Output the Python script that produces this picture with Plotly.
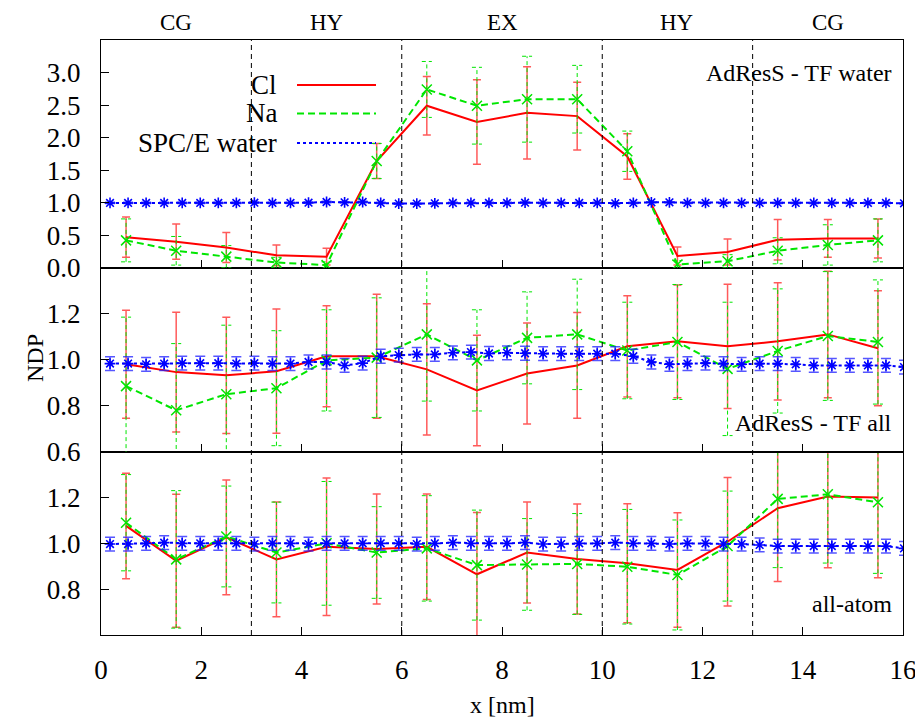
import plotly.graph_objects as go

# ---------------- data ----------------
x_ion = [0.5, 1.5, 2.5, 3.5, 4.5, 5.5, 6.5, 7.5, 8.5, 9.5, 10.5, 11.5, 12.5, 13.5, 14.5, 15.5]

# top panel: AdResS - TF water
cl_top = [0.47, 0.40, 0.31, 0.19, 0.17, 1.64, 2.49, 2.24, 2.38, 2.33, 1.71, 0.18, 0.24, 0.43, 0.45, 0.45]
cl_top_err = [0.31, 0.27, 0.23, 0.16, 0.13, 0.27, 0.45, 0.65, 0.71, 0.52, 0.35, 0.14, 0.20, 0.31, 0.29, 0.30]
na_top = [0.42, 0.26, 0.17, 0.08, 0.04, 1.64, 2.74, 2.49, 2.59, 2.59, 1.79, 0.05, 0.10, 0.26, 0.35, 0.42]
na_top_err = [0.33, 0.22, 0.17, 0.08, 0.05, 0.27, 0.43, 0.59, 0.66, 0.52, 0.31, 0.06, 0.10, 0.20, 0.31, 0.33]

# middle panel: AdResS - TF all
cl_mid = [0.98, 0.946, 0.932, 0.95, 1.015, 1.015, 0.958, 0.866, 0.94, 0.975, 1.058, 1.08, 1.058, 1.08, 1.11, 1.05]
cl_mid_err = [0.235, 0.26, 0.253, 0.27, 0.22, 0.27, 0.285, 0.24, 0.22, 0.23, 0.22, 0.245, 0.27, 0.255, 0.275, 0.25]
na_mid = [0.885, 0.78, 0.85, 0.876, 0.997, 1.009, 1.11, 0.997, 1.095, 1.11, 1.04, 1.077, 0.96, 1.038, 1.103, 1.077]
na_mid_err = [0.30, 0.29, 0.30, 0.25, 0.22, 0.26, 0.29, 0.22, 0.20, 0.24, 0.21, 0.25, 0.29, 0.27, 0.28, 0.27]

# bottom panel: all-atom
cl_bot = [1.076, 0.924, 1.026, 0.93, 0.985, 0.975, 0.985, 0.865, 0.96, 0.932, 0.913, 0.884, 1.007, 1.153, 1.204, 1.20]
cl_bot_err = [0.23, 0.29, 0.25, 0.25, 0.30, 0.24, 0.23, 0.27, 0.22, 0.24, 0.26, 0.25, 0.28, 0.32, 0.31, 0.35]
na_bot = [1.09, 0.93, 1.03, 0.96, 1.0, 0.96, 0.978, 0.905, 0.908, 0.91, 0.898, 0.862, 0.988, 1.194, 1.214, 1.179]
na_bot_err = [0.21, 0.30, 0.22, 0.22, 0.27, 0.20, 0.23, 0.24, 0.20, 0.22, 0.25, 0.24, 0.24, 0.30, 0.30, 0.31]

# SPC/E water
x_wat = [0.18, 0.54, 0.90, 1.26, 1.62, 1.98, 2.34, 2.70, 3.06, 3.42, 3.78, 4.14, 4.50, 4.86, 5.22,
         5.58, 5.94, 6.30, 6.66, 7.02, 7.38, 7.74, 8.10, 8.46, 8.82, 9.18, 9.54, 9.90, 10.26, 10.62,
         10.98, 11.34, 11.70, 12.06, 12.42, 12.78, 13.14, 13.50, 13.86, 14.22, 14.58, 14.94, 15.30, 15.66, 16.02]
wat_top = [0.995, 0.995, 0.995, 0.995, 0.995, 0.995, 0.995, 0.995, 1.0, 0.995, 0.995, 1.0, 1.01, 1.005, 1.01,
           0.995, 0.985, 0.985, 0.99, 0.995, 0.995, 0.995, 0.995, 1.0, 0.995, 0.995, 0.995, 0.995, 0.99, 0.995,
           1.005, 1.005, 0.995, 0.995, 0.995, 0.995, 0.995, 0.995, 0.995, 0.995, 0.995, 0.995, 0.995, 0.995, 0.99]
wat_top_err = [0.01] * 45
wat_mid = [0.983, 0.983, 0.98, 0.983, 0.985, 0.985, 0.985, 0.983, 0.985, 0.983, 0.983, 0.99, 0.99, 0.975, 0.985,
           1.015, 1.02, 1.023, 1.023, 1.03, 1.033, 1.027, 1.03, 1.028, 1.026, 1.026, 1.026, 1.026, 1.026, 1.015,
           0.99, 0.98, 0.983, 0.985, 0.983, 0.98, 0.983, 0.983, 0.98, 0.975, 0.975, 0.975, 0.975, 0.975, 0.968]
wat_mid_err = [0.03] * 45
wat_bot = [0.997, 0.997, 1.0, 1.003, 1.0, 1.0, 1.0, 1.0, 0.997, 1.0, 1.0, 0.997, 1.0, 1.0, 1.0,
           1.0, 1.0, 0.997, 1.0, 1.003, 1.0, 1.0, 1.0, 1.003, 0.997, 0.997, 1.0, 1.0, 1.003, 1.0,
           1.0, 0.997, 1.0, 1.0, 0.997, 0.997, 0.993, 0.988, 0.988, 0.988, 0.988, 0.988, 0.988, 0.988, 0.978]
wat_bot_err = [0.03] * 45

region_bounds = [3, 6, 10, 13]
region_names = ["CG", "HY", "EX", "HY", "CG"]
region_centers = [1.5, 4.5, 8, 11.5, 14.5]
x_ticks = [0, 2, 4, 6, 8, 10, 12, 14, 16]
y_ticks_top = [0.0, 0.5, 1.0, 1.5, 2.0, 2.5, 3.0]
y_ticks_low = [0.6, 0.8, 1.0, 1.2]
panel_labels = ["AdResS - TF water", "AdResS - TF all", "all-atom"]
series_names = ["Cl", "Na", "SPC/E water"]

# ---------------- style ----------------
FONT = "Times New Roman, Liberation Serif, Times, serif"
RED = "#ff0000"
GREEN = "#00e600"
BLUE = "#0000ff"
CAP = 0.1


def bar_path(xs, ys, es, cap):
    px, py = [], []
    for x, y, e in zip(xs, ys, es):
        px += [x, x, None, x - cap, x + cap, None, x - cap, x + cap, None]
        py += [y - e, y + e, None, y - e, y - e, None, y + e, y + e, None]
    return px, py


fig = go.Figure()

panels = [
    ("x3", "y3", cl_top, cl_top_err, na_top, na_top_err, wat_top, wat_top_err),
    ("x2", "y2", cl_mid, cl_mid_err, na_mid, na_mid_err, wat_mid, wat_mid_err),
    ("x", "y", cl_bot, cl_bot_err, na_bot, na_bot_err, wat_bot, wat_bot_err),
]

for xa, ya, cl, cle, na, nae, wa, wae in panels:
    fig.add_trace(go.Scatter(
        x=x_ion, y=cl, xaxis=xa, yaxis=ya, mode="lines",
        line=dict(color=RED, width=2),
        error_y=dict(type="data", array=cle, color="rgba(255,20,20,0.7)", thickness=1.5, width=4),
        showlegend=False, name=series_names[0]))
    bx, by = bar_path(x_ion, na, nae, CAP)
    fig.add_trace(go.Scatter(
        x=bx, y=by, xaxis=xa, yaxis=ya, mode="lines",
        line=dict(color=GREEN, width=1, dash="4px,3px"), showlegend=False, hoverinfo="skip"))
    fig.add_trace(go.Scatter(
        x=x_ion, y=na, xaxis=xa, yaxis=ya, mode="lines+markers",
        line=dict(color=GREEN, width=2, dash="7px,4px"),
        marker=dict(symbol="x-thin-open", size=10, line=dict(color=GREEN, width=1.5)),
        showlegend=False, name=series_names[1]))
    fig.add_trace(go.Scatter(
        x=x_wat, y=wa, xaxis=xa, yaxis=ya, mode="lines+markers",
        line=dict(color=BLUE, width=2, dash="dot"),
        marker=dict(symbol="asterisk-open", size=9, line=dict(color=BLUE, width=1.6)),
        error_y=dict(type="data", array=wae, color="rgba(30,30,255,0.75)", thickness=1.5, width=5),
        showlegend=False, name=series_names[2]))

ax_common = dict(
    range=[0, 16], tickvals=x_ticks, ticks="inside", ticklen=8, tickwidth=1.2, tickcolor="black",
    showline=True, linecolor="black", linewidth=1.2, mirror=True, showgrid=False, zeroline=False,
    automargin=False,
)
ay_common = dict(
    ticks="inside", ticklen=8, tickwidth=1.2, tickcolor="black",
    showline=True, linecolor="black", linewidth=1.2, mirror=True, showgrid=False, zeroline=False,
    tickfont=dict(family=FONT, size=27, color="black"), ticklabelstandoff=14, automargin=False,
)

D1 = 0.3081
D2 = 0.6173

fig.update_layout(
    width=915, height=711,
    margin=dict(l=93, r=20, t=32, b=84),
    paper_bgcolor="white", plot_bgcolor="white",
    font=dict(family=FONT, color="black"),
    showlegend=False,
    xaxis=dict(**ax_common, anchor="y", domain=[0, 1], showticklabels=True,
               tickfont=dict(family=FONT, size=27, color="black"), ticklabelstandoff=10),
    xaxis2=dict(**ax_common, anchor="y2", domain=[0, 1], showticklabels=False, matches="x"),
    xaxis3=dict(**ax_common, anchor="y3", domain=[0, 1], showticklabels=False, matches="x"),
    yaxis=dict(**ay_common, anchor="x", domain=[0, D1], range=[0.6, 1.4], tickvals=y_ticks_low,
               ticktext=["", "0.8", "1.0", "1.2"]),
    yaxis2=dict(**ay_common, anchor="x2", domain=[D1, D2], range=[0.6, 1.4], tickvals=y_ticks_low,
                tickformat=".1f"),
    yaxis3=dict(**ay_common, anchor="x3", domain=[D2, 1], range=[0, 3.5], tickvals=y_ticks_top,
                tickformat=".1f"),
)

# region boundaries
for b in region_bounds:
    fig.add_shape(type="line", xref="x", yref="paper", x0=b, x1=b, y0=0, y1=1,
                  line=dict(color="black", width=1, dash="5px,4px"), layer="above")

# region labels
for name, c in zip(region_names, region_centers):
    fig.add_annotation(x=c, xref="x", y=1.030, yref="paper", text=name, showarrow=False,
                       font=dict(family=FONT, size=23, color="black"), yanchor="middle")

# panel labels
for txt, yy in zip(panel_labels, [0.944, 0.357, 0.052]):
    fig.add_annotation(x=0.989, xref="paper", y=yy, yref="paper", text=txt, showarrow=False,
                       xanchor="right", yanchor="middle",
                       font=dict(family=FONT, size=24, color="black"))

# custom legend (text on left, line sample on right)
leg_y = [0.9244, 0.8765, 0.827]
leg_style = [dict(color=RED, width=2), dict(color=GREEN, width=2, dash="7px,4px"),
             dict(color=BLUE, width=2, dash="dot")]
for name, yy, st in zip(series_names, leg_y, leg_style):
    fig.add_annotation(x=0.222, xref="paper", y=yy, yref="paper", text=name, showarrow=False,
                       xanchor="right", yanchor="middle",
                       font=dict(family=FONT, size=27, color="black"))
    fig.add_shape(type="line", xref="paper", yref="paper", x0=0.2444, x1=0.3429, y0=yy, y1=yy,
                  line=st)

# axis titles
fig.add_annotation(x=-0.101, xref="paper", y=0.4655, yref="paper", text="NDP", textangle=-90,
                   showarrow=False, font=dict(family=FONT, size=24, color="black"))
fig.add_annotation(x=0.5, xref="paper", y=-0.1176, yref="paper", text="x [nm]", showarrow=False,
                   yanchor="middle", font=dict(family=FONT, size=24, color="black"))

fig.write_html("out.html")
